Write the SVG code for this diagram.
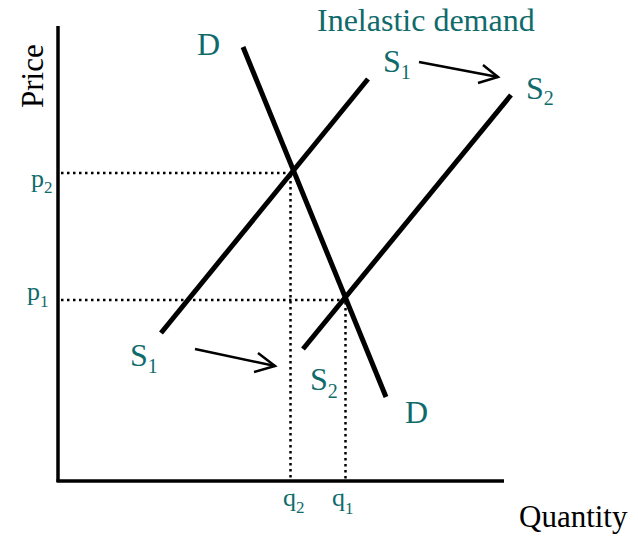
<svg xmlns="http://www.w3.org/2000/svg" width="638" height="537" viewBox="0 0 638 537">
<style>
.lbl{font-family:"Liberation Serif","Times New Roman",serif;fill:#0f6b6b;font-size:32px}
.ax{font-family:"Liberation Serif","Times New Roman",serif;fill:#000;font-size:31px}
.small{font-size:26px}
.sub{font-size:20px}
.ssub{font-size:17px}
.curve{stroke:#000;stroke-width:5;fill:none}
.axis{stroke:#000;stroke-width:3.5;fill:none}
.dot{stroke:#000;stroke-width:2.5;stroke-dasharray:2.5 3.5;fill:none}
.arr{stroke:#000;stroke-width:2.5;fill:none}
</style>
<rect width="638" height="537" fill="#fff"/>
<g id="axes">
<line class="axis" x1="58" y1="26" x2="58" y2="482"/>
<line class="axis" x1="56.5" y1="481" x2="504" y2="481"/>
<text class="ax" transform="translate(43,108) rotate(-90)">Price</text>
<text class="ax" x="519" y="527">Quantity</text>
</g>
<text id="title" class="lbl" x="317" y="31">Inelastic demand</text>
<g id="guides">
<line class="dot" x1="61" y1="173" x2="291" y2="173"/>
<line class="dot" x1="61" y1="300" x2="345" y2="300"/>
<line class="dot" x1="290.5" y1="175" x2="290.5" y2="480"/>
<line class="dot" x1="345.5" y1="302" x2="345.5" y2="480"/>
<text class="lbl small" x="31" y="187">p<tspan class="ssub" dy="6">2</tspan></text>
<text class="lbl small" x="27" y="300">p<tspan class="ssub" dy="7">1</tspan></text>
<text class="lbl small" x="283" y="506">q<tspan class="ssub" dy="7">2</tspan></text>
<text class="lbl small" x="332" y="506">q<tspan class="ssub" dy="8">1</tspan></text>
</g>
<g id="demand">
<line class="curve" x1="243" y1="47" x2="386" y2="397"/>
<text class="lbl" x="197" y="55">D</text>
<text class="lbl" x="405" y="423">D</text>
</g>
<g id="supply1">
<line class="curve" x1="161" y1="333" x2="368" y2="79"/>
<text class="lbl" x="383" y="72">S<tspan class="sub" dy="7">1</tspan></text>
<text class="lbl" x="130" y="366">S<tspan class="sub" dy="7">1</tspan></text>
</g>
<g id="supply2">
<line class="curve" x1="303" y1="349" x2="511" y2="95"/>
<text class="lbl" x="526" y="99">S<tspan class="sub" dy="6">2</tspan></text>
<text class="lbl" x="310" y="390">S<tspan class="sub" dy="8">2</tspan></text>
</g>
<g id="connectors">
<line class="arr" x1="195" y1="349" x2="275" y2="366"/>
<polyline class="arr" points="258,353 275,366 254,372"/>
<line class="arr" x1="419" y1="62" x2="498" y2="77"/>
<polyline class="arr" points="483,65 498,77 478,83"/>
</g>
</svg>
